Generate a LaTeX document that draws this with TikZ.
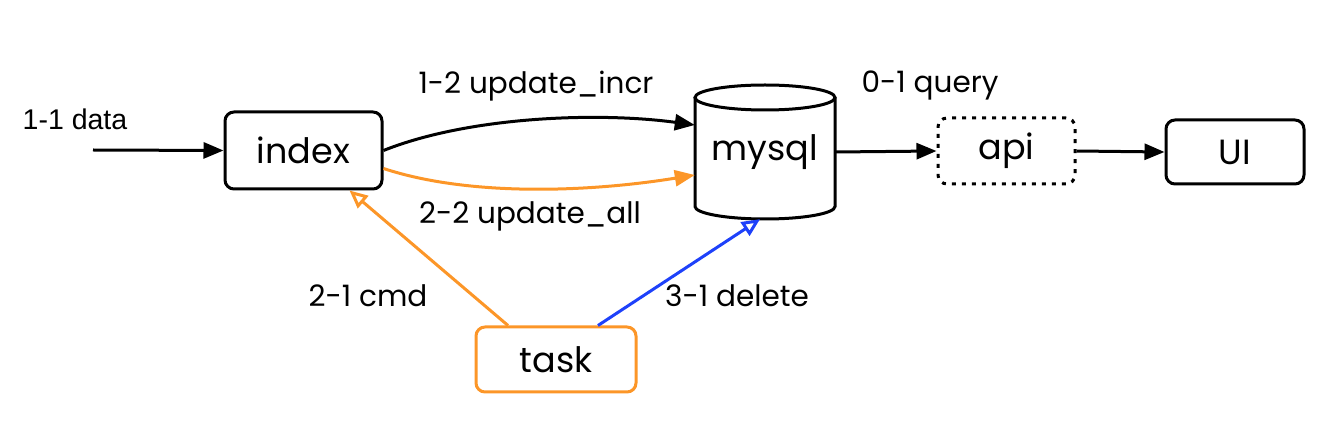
\documentclass[tikz,border=0pt]{standalone}
\usepackage{fontspec}
\setmainfont{Poppins}
\newfontfamily\arialf{Liberation Sans}
\usetikzlibrary{arrows.meta}
\definecolor{orng}{RGB}{252,150,40}
\definecolor{blu}{RGB}{30,65,250}
\begin{document}
\begin{tikzpicture}[x=1pt,y=-1pt,
  box/.style={draw, rounded corners=9pt, line width=3pt, inner sep=0pt, font=\fontsize{35}{40}\selectfont},
  lbl/.style={font=\fontsize{29.5}{34}\selectfont},
  arr/.style={line width=3pt, -{Triangle[length=20pt,width=16pt]}},
  oarr/.style={line width=3pt, -{Triangle[open,length=18pt,width=16pt,line width=3pt]}},
  cyl/.style={line width=3pt}]
\useasboundingbox (0,0) rectangle (1326,438);
% nodes
\node[box, minimum width=157pt, minimum height=77pt] (index) at (303.5,150.5) {index};
\node[inner sep=0pt, minimum width=140pt, minimum height=134pt, font=\fontsize{35}{40}\selectfont] (mysql) at (765,152) {\raisebox{-6pt}{mysql}};
\draw[cyl] (765,97.5) ellipse [x radius=70pt, y radius=12.5pt];
\draw[cyl] (695,97.5) -- (695,206.5) arc[start angle=180, end angle=360, x radius=70pt, y radius=12.5pt] -- (835,97.5);
\node[box, dash pattern=on 4pt off 6pt, minimum width=137pt, minimum height=66pt] (api) at (1006.5,151) {api};
\node[box, minimum width=138pt, minimum height=64pt] (ui) at (1235,152) {UI};
\node[box, draw=orng, minimum width=160pt, minimum height=65pt] (task) at (556,359.5) {task};
\coordinate (src) at (93,150);
% connectors
\draw[arr] (src) -- (index.west);
\draw[arr] (index.east) .. controls (470,116) and (600,112) .. ([yshift=27pt]mysql.west);
\draw[arr, orng] ([yshift=-18pt]index.east) .. controls (470,197) and (590,192) .. ([yshift=-23pt]mysql.west);
\draw[arr] (mysql.east) -- (api.west);
\draw[arr] (api.east) -- (ui.west);
\draw[oarr, orng] ([xshift=-48pt]task.north) -- ([xshift=46pt]index.south);
\draw[oarr, blu] ([xshift=42pt]task.north) -- ([xshift=-5pt]mysql.south);
% labels
\node[font=\arialf\fontsize{28.5}{32}\selectfont] (l11) at (75,119) {1-1 data};
\node[lbl] (l12) at (536,86) {1-2 update\_incr};
\node[lbl] (l22) at (530,216) {2-2 update\_all};
\node[lbl] (l01) at (930,86) {0-1 query};
\node[lbl] (l21) at (368,296) {2-1 cmd};
\node[lbl] (l31) at (737,296) {3-1 delete};
\end{tikzpicture}
\end{document}
